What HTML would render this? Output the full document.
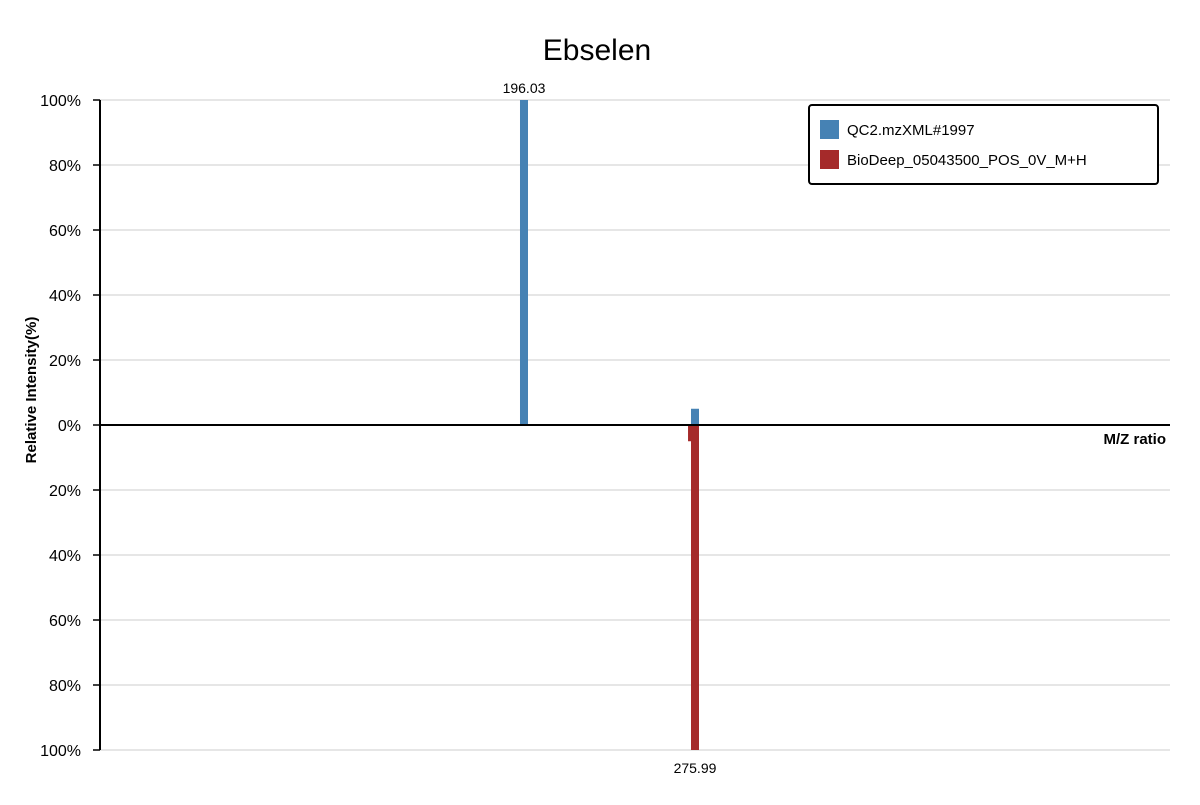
<!DOCTYPE html>
<html><head><meta charset="utf-8"><style>
body{margin:0;background:#fff;font-family:"Segoe UI","Liberation Sans",sans-serif}
text{font-family:"Liberation Sans",sans-serif}
</style></head><body>
<svg width="1200" height="800">
<text x="597" y="60" text-anchor="middle" font-size="30">Ebselen</text>
<g id="grid"></g>
<g id="bars"></g>
<line x1="100" y1="100" x2="100" y2="750" stroke="#000" stroke-width="2"/>
<line x1="100" y1="425" x2="1170" y2="425" stroke="#000" stroke-width="2"/>
<text x="1166" y="444" text-anchor="end" font-size="15" font-weight="bold">M/Z ratio</text>
<text transform="translate(36,390) rotate(-90)" text-anchor="middle" font-size="15" font-weight="bold">Relative Intensity(%)</text>
<g>
<rect x="809" y="105" width="349" height="79" rx="3" fill="#fff" stroke="#000" stroke-width="2"/>
<rect x="820" y="120" width="19" height="19" fill="#4682b4"/>
<text x="847" y="135" font-size="15">QC2.mzXML#1997</text>
<rect x="820" y="150" width="19" height="19" fill="#a52a2a"/>
<text x="847" y="165" font-size="15">BioDeep_05043500_POS_0V_M+H</text>
</g>
</svg>
<script>
const yTicks=[100,80,60,40,20,0,20,40,60,80,100];
const topMz=[196.03,275.99];
const topInt=[100,5];
const botMz=[274.6,275.99];
const botInt=[5,100];
const topLabels=["196.03"];
const botLabels=["275.99"];
const xDomain=[-2.23,498.1];
const ns="http://www.w3.org/2000/svg";
const X=v=>100+(v-xDomain[0])/(xDomain[1]-xDomain[0])*1070;
const Y=p=>425-p*3.25;
const grid=document.getElementById('grid'),bars=document.getElementById('bars');
function mk(t,a,p){const e=document.createElementNS(ns,t);for(const k in a)e.setAttribute(k,a[k]);p.appendChild(e);return e;}
yTicks.forEach((t,i)=>{
 const y=100+i*65;
 const g=mk('line',{x1:100,x2:1170,y1:y,y2:y,stroke:'#ddd','stroke-width':1.5},grid);
 
 
 const tk=mk('line',{x1:93,x2:100,y1:y,y2:y,stroke:'#000','stroke-width':1.5},grid);
 
 
 const tx=mk('text',{x:81,y:y+6,'text-anchor':'end','font-size':16},grid);
 tx.textContent=t+'%';
 
 
});
topMz.forEach((m,i)=>{
 const r=mk('rect',{x:X(m)-4,y:Y(topInt[i]),width:8,height:topInt[i]*3.25,fill:'#4682b4'},bars);
 
 
});
botMz.forEach((m,i)=>{
 const r=mk('rect',{x:X(m)-4,y:425,width:8,height:botInt[i]*3.25,fill:'#a52a2a'},bars);
 
 
});
topLabels.forEach(l=>{
 const t=mk('text',{x:X(+l),y:93,'text-anchor':'middle','font-size':14},bars);t.textContent=l;
 
 
});
botLabels.forEach(l=>{
 const t=mk('text',{x:X(+l),y:773,'text-anchor':'middle','font-size':14},bars);t.textContent=l;
 
 
});
</script>
</body></html>
